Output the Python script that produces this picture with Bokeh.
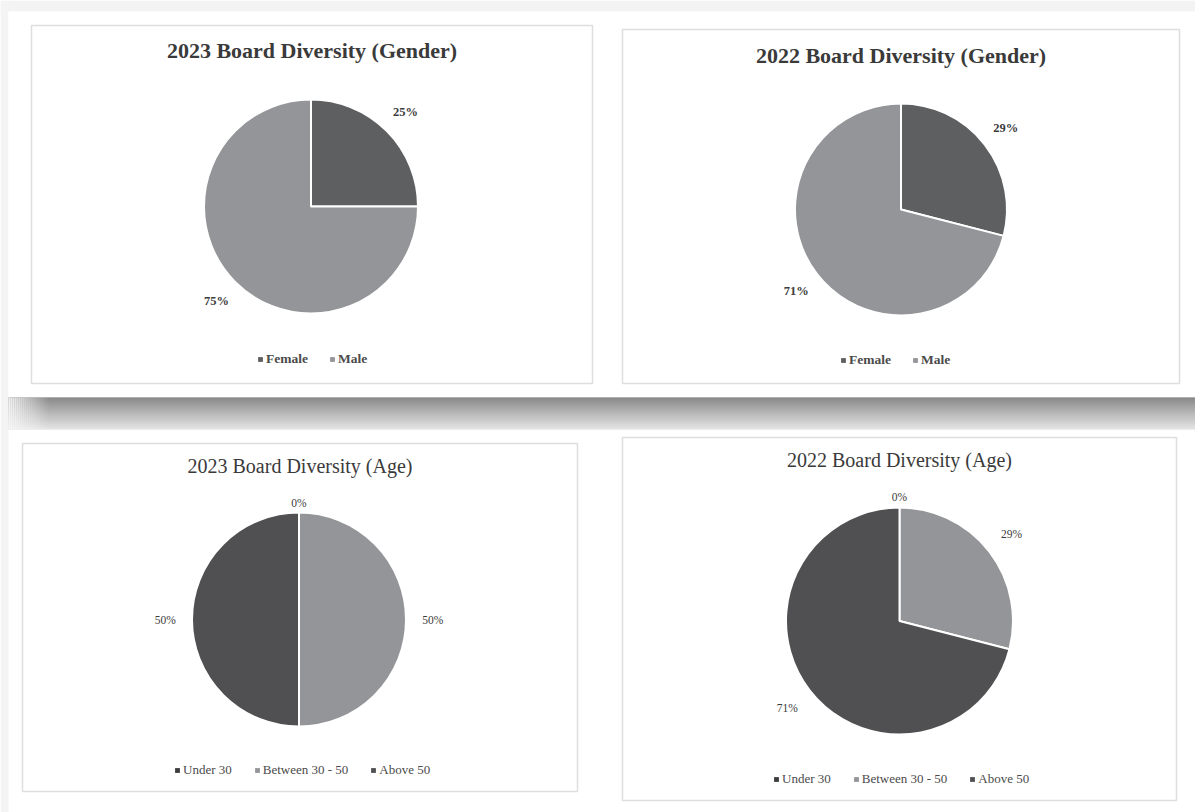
import math
from bokeh.plotting import figure
from bokeh.models import Range1d, Legend, LegendItem, ColumnDataSource
from bokeh.core.properties import value
from bokeh.embed import file_html
from bokeh.resources import INLINE

W, H = 1195, 812

# ---------------- data ----------------
gender_categories = ["Female", "Male"]
gender_2023 = [25, 75]
gender_2022 = [29, 71]
gender_colors = ["#5e5f61", "#939598"]

age_categories = ["Under 30", "Between 30 - 50", "Above 50"]
age_2023 = [0, 50, 50]
age_2022 = [0, 29, 71]
age_colors = ["#3b3b3d", "#939598", "#505052"]

titles = [
    "2023 Board Diversity (Gender)",
    "2022 Board Diversity (Gender)",
    "2023 Board Diversity (Age)",
    "2022 Board Diversity (Age)",
]

# ---------------- layout (screen px, y down) ----------------
charts = [
    dict(title=titles[0], cats=gender_categories, vals=gender_2023, cols=gender_colors,
         box=(31, 25, 592, 383), c=(310.5, 206), r=107, ty=50, bold=True,
         leg=(257, 360), spacing=21, tsize="22px", lsize="13.5px", dsize="12.5px"),
    dict(title=titles[1], cats=gender_categories, vals=gender_2022, cols=gender_colors,
         box=(622, 29, 1179, 383), c=(900.5, 209), r=106, ty=55, bold=True,
         leg=(840, 361), spacing=21, tsize="22px", lsize="13.5px", dsize="12.5px"),
    dict(title=titles[2], cats=age_categories, vals=age_2023, cols=age_colors,
         box=(22, 443, 577, 791), c=(298.5, 619), r=107, ty=465, bold=False,
         leg=(174, 771), spacing=22, tsize="20px", lsize="13px", dsize="11.5px"),
    dict(title=titles[3], cats=age_categories, vals=age_2022, cols=age_colors,
         box=(622, 437, 1176, 800), c=(899, 620.5), r=113.5, ty=459, bold=False,
         leg=(773, 780), spacing=22, tsize="20px", lsize="13px", dsize="11.5px"),
]

FONT = "Liberation Serif"


def Y(y):
    return H - y


p = figure(width=W, height=H, x_range=Range1d(0, W), y_range=Range1d(0, H),
           output_backend="svg", toolbar_location=None, min_border=0)
p.axis.visible = False
p.grid.visible = False
p.outline_line_color = None
p.background_fill_color = "#ffffff"
p.border_fill_color = "#ffffff"

# page background strips
p.quad(left=[0], right=[W], bottom=[Y(11)], top=[Y(0)], fill_color="#f3f3f3", line_color=None)
p.quad(left=[0], right=[8], bottom=[Y(H)], top=[Y(0)], fill_color="#f4f4f4", line_color=None)
p.quad(left=[8], right=[W], bottom=[Y(397)], top=[Y(11)], fill_color="#ffffff", line_color=None)

# shadow below the top card (vertical gradient)
top_c, bot_c = (0x63, 0x63, 0x63), (0xdc, 0xdc, 0xdc)
n = 32
for i in range(n):
    t = i / (n - 1)
    col = "#%02x%02x%02x" % tuple(int(a + (b - a) * t) for a, b in zip(top_c, bot_c))
    p.quad(left=[8], right=[W], top=[Y(397 + i)], bottom=[Y(398 + i)], fill_color=col, line_color=None)
# left fade of the shadow
for j in range(20):
    a = 1.0 - j / 20
    p.quad(left=[8 + 2 * j], right=[10 + 2 * j], top=[Y(397)], bottom=[Y(429)],
           fill_color="#f6f6f6", fill_alpha=a * 0.95, line_color=None)

for ch in charts:
    x0, y0, x1, y1 = ch["box"]
    p.quad(left=[x0], right=[x1], top=[Y(y0)], bottom=[Y(y1)], fill_color="#ffffff",
           line_color="#dedede", line_width=1.5)

    cx, cy = ch["c"]
    r = ch["r"]
    total = float(sum(ch["vals"]))
    starts, ends, mids = [], [], []
    cum = 0.0
    for v in ch["vals"]:
        f0 = cum / total
        cum += v
        f1 = cum / total
        starts.append(math.pi / 2 - 2 * math.pi * f1)
        ends.append(math.pi / 2 - 2 * math.pi * f0)
        mids.append(math.pi / 2 - math.pi * (f0 + f1))
    src = ColumnDataSource(dict(start=starts, end=ends, color=ch["cols"], cat=ch["cats"]))
    p.wedge(x=cx, y=Y(cy), radius=r, start_angle="start", end_angle="end",
            fill_color="color", line_color="#ffffff", line_width=2, source=src)

    # swatch renderer for the legend (no visible marks of its own)
    nan = float("nan")
    k_n = len(ch["cats"])
    sw = ColumnDataSource(dict(l=[nan] * k_n, r=[nan] * k_n, b=[nan] * k_n, t=[nan] * k_n,
                               color=ch["cols"]))
    sr = p.quad(left="l", right="r", bottom="b", top="t", fill_color="color",
                line_color=None, source=sw)

    # data labels
    lx, ly, lt = [], [], []
    for v, m in zip(ch["vals"], mids):
        k = 1.09 if v == 0 else 1.25
        lx.append(cx + k * r * math.cos(m))
        ly.append(Y(cy) + k * r * math.sin(m))
        lt.append("%d%%" % v)
    p.text(x=lx, y=ly, text=lt, text_font=value(FONT), text_font_size=ch["dsize"],
           text_font_style="bold" if ch["bold"] else "normal",
           text_color="#3c3c3c", text_align="center", text_baseline="middle")

    # title
    p.text(x=[(x0 + x1) / 2], y=[Y(ch["ty"])], text=[ch["title"]], text_font=value(FONT),
           text_font_size=ch["tsize"], text_font_style="bold" if ch["bold"] else "normal",
           text_color="#3a3a3a", text_align="center", text_baseline="middle")

    # legend
    items = [LegendItem(label=c, renderers=[sr], index=i) for i, c in enumerate(ch["cats"])]
    lgx, lgy = ch["leg"]
    leg = Legend(items=items, orientation="horizontal", location=(lgx, H - lgy - 7),
                 glyph_width=6, glyph_height=6, label_standoff=3, spacing=ch["spacing"],
                 padding=0, margin=0, border_line_color=None, background_fill_alpha=0,
                 label_text_font=FONT, label_text_font_size=ch["lsize"],
                 label_text_font_style="bold" if ch["bold"] else "normal",
                 label_text_color="#4a4a4a", label_height=14)
    p.add_layout(leg, "center")

open("out.html", "w").write(file_html(p, INLINE))
